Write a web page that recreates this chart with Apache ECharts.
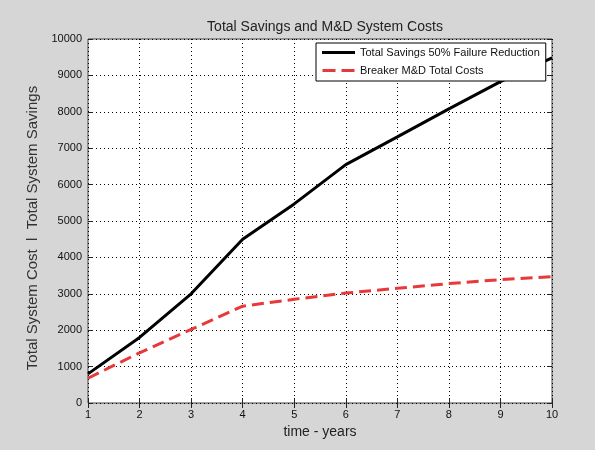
<!DOCTYPE html>
<html>
<head>
<meta charset="utf-8">
<script src="https://cdn.jsdelivr.net/npm/echarts@6/dist/echarts.min.js"></script>
<style>html,body{margin:0;padding:0;background:#d6d6d6;}#c{width:595px;height:450px;}</style>
</head>
<body>
<div id="c"></div>
<script>
var years = [1, 2, 3, 4, 5, 6, 7, 8, 9, 10];
var savings = [800, 1800, 3000, 4500, 5470, 6550, 7310, 8080, 8830, 9480];
var costs = [680, 1380, 2020, 2660, 2850, 3020, 3150, 3280, 3390, 3470];
var seriesNames = ['Total Savings 50% Failure Reduction', 'Breaker M&D Total Costs'];

function pairs(xs, ys) { return xs.map(function (x, i) { return [x, ys[i]]; }); }

var chart = echarts.init(document.getElementById('c'), null, {renderer: 'canvas'});
var font = 'Liberation Sans, Arial, sans-serif';
var lab = {fontFamily: font, fontSize: 11, color: '#111'};
chart.setOption({
  backgroundColor: '#d6d6d6',
  animation: false,
  title: {
    text: 'Total Savings and M&D System Costs',
    left: 320, top: 15, textAlign: 'center',
    textStyle: {fontFamily: font, fontSize: 14, fontWeight: 'normal', color: '#222'}
  },
  legend: {
    orient: 'vertical', left: 316, top: 43,
    backgroundColor: '#fff', borderColor: '#000', borderWidth: 1,
    padding: [4, 6, 5, 6], itemGap: 7, itemWidth: 33, itemHeight: 3,
    textStyle: {fontFamily: font, fontSize: 11, color: '#111'},
    data: [
      {name: seriesNames[0], icon: 'path://M0,0H33V3H0Z'},
      {name: seriesNames[1], icon: 'path://M0,0H13V3H0Z M19,0H32V3H19Z'}
    ]
  },
  grid: {left: 88, right: 43, top: 39, bottom: 47, show: true, backgroundColor: '#fff', borderColor: '#444', borderWidth: 1},
  xAxis: [{
    type: 'value', min: 1, max: 10, interval: 1,
    name: 'time - years', nameLocation: 'middle', nameGap: 22,
    nameTextStyle: {fontFamily: font, fontSize: 14, color: '#222'},
    axisLine: {show: false},
    axisTick: {inside: true, length: 5, lineStyle: {color: '#222'}},
    axisLabel: Object.assign({margin: 6}, lab),
    splitLine: {show: true, lineStyle: {type: [1, 3], color: '#000', width: 1}}
  }, {
    type: 'value', min: 1, max: 10, interval: 1, position: 'top',
    axisLine: {show: false}, axisLabel: {show: false},
    axisTick: {inside: true, length: 5, lineStyle: {color: '#222'}},
    splitLine: {show: false}
  }],
  yAxis: [{
    type: 'value', min: 0, max: 10000, interval: 1000,
    name: 'Total System Cost  l  Total System Savings', nameLocation: 'middle', nameGap: 32,
    nameTextStyle: {fontFamily: font, fontSize: 15, color: '#333', padding: [0, 14, 0, 0]},
    axisLine: {show: false},
    axisTick: {inside: true, length: 5, lineStyle: {color: '#222'}},
    axisLabel: Object.assign({margin: 6, formatter: function (v) { return String(v); }}, lab),
    splitLine: {show: true, lineStyle: {type: [1, 3], color: '#000', width: 1}}
  }, {
    type: 'value', min: 0, max: 10000, interval: 1000, position: 'right',
    axisLine: {show: false}, axisLabel: {show: false},
    axisTick: {inside: true, length: 5, lineStyle: {color: '#222'}},
    splitLine: {show: false}
  }],
  series: [{
    name: seriesNames[0], type: 'line', symbol: 'none',
    data: pairs(years, savings),
    lineStyle: {color: '#000', width: 3}, itemStyle: {color: '#000'}
  }, {
    name: seriesNames[1], type: 'line', symbol: 'none',
    data: pairs(years, costs),
    lineStyle: {color: '#e8393a', width: 3, type: [12, 6]}, itemStyle: {color: '#e8393a'}
  }]
});
</script>
</body>
</html>
